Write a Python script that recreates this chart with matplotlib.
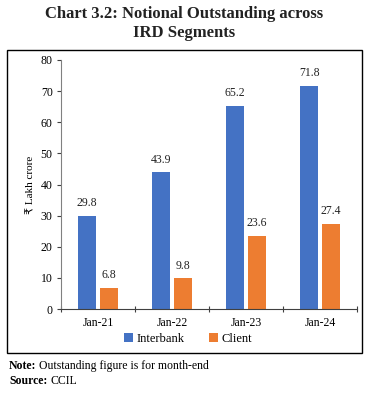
import numpy as np
import matplotlib.pyplot as plt
from matplotlib.patches import Rectangle

categories = ["Jan-21", "Jan-22", "Jan-23", "Jan-24"]
interbank = [29.8, 43.9, 65.2, 71.8]
client = [6.8, 9.8, 23.6, 27.4]

plt.rcParams['font.family'] = ['Liberation Serif', 'DejaVu Sans']

W, H = 384, 409
fig = plt.figure(figsize=(W / 100, H / 100), dpi=100)
ax = fig.add_axes([61 / W, 1 - 309 / H, (357 - 61) / W, (309 - 60) / H])

x = np.arange(len(categories)) + 0.5
bw = 0.245
off = 0.145
b1 = ax.bar(x - off, interbank, bw, color="#4472C4", label="Interbank")
b2 = ax.bar(x + off, client, bw, color="#ED7D31", label="Client")
for bars, vals in ((b1, interbank), (b2, client)):
    for r, v in zip(bars, vals):
        ax.text(r.get_x() + r.get_width() / 2, v + 2.2, f"{v:.1f}",
                ha="center", va="bottom", fontsize=8.5, color="#222222")

ax.set_xlim(0, 4)
ax.set_ylim(0, 80)
ax.set_yticks(range(0, 81, 10))
ax.set_xticks(range(5))
ax.set_xticklabels([])
ax.set_xticks(x, minor=True)
ax.set_xticklabels(categories, minor=True)
ax.tick_params(axis="x", which="minor", length=0, labelsize=8.5, pad=6)
ax.tick_params(axis="x", which="major", length=4, direction="inout", color="#404040")
ax.tick_params(axis="y", length=3, labelsize=8.5, color="#404040", pad=3)
for s in ("top", "right"):
    ax.spines[s].set_visible(False)
ax.spines["left"].set_color("#808080")
ax.spines["bottom"].set_color("#404040")
ax.set_ylabel("₹ Lakh crore", fontsize=8, labelpad=4)

fig.legend(handles=[b1, b2], loc="center", bbox_to_anchor=(0.49, 1 - 339 / H),
           ncol=2, frameon=False, fontsize=9, handlelength=0.7, handleheight=0.7,
           columnspacing=2.0, handletextpad=0.3)

fig.add_artist(Rectangle((7 / W, 1 - 353 / H), (362 - 7) / W, (353 - 50) / H,
                         transform=fig.transFigure, fill=False, lw=1, ec="black"))

fig.text(0.48, 1 - 14 / H, "Chart 3.2: Notional Outstanding across", ha="center",
         va="center", fontsize=12, fontweight="bold", color="#222222")
fig.text(0.48, 1 - 33 / H, "IRD Segments", ha="center",
         va="center", fontsize=12, fontweight="bold", color="#222222")

# notes: bold lead word followed by regular text
renderer = fig.canvas.get_renderer()
for yy, head, rest in ((369, "Note:", "Outstanding figure is for month-end"),
                       (384, "Source:", "CCIL")):
    t = fig.text(9 / W, 1 - yy / H, head, fontsize=8.5, fontweight="bold",
                 va="baseline")
    w = t.get_window_extent(renderer).width
    fig.text((9 + w + 3) / W, 1 - yy / H, rest, fontsize=8.5, va="baseline")

fig.savefig("out.png", dpi=100)
